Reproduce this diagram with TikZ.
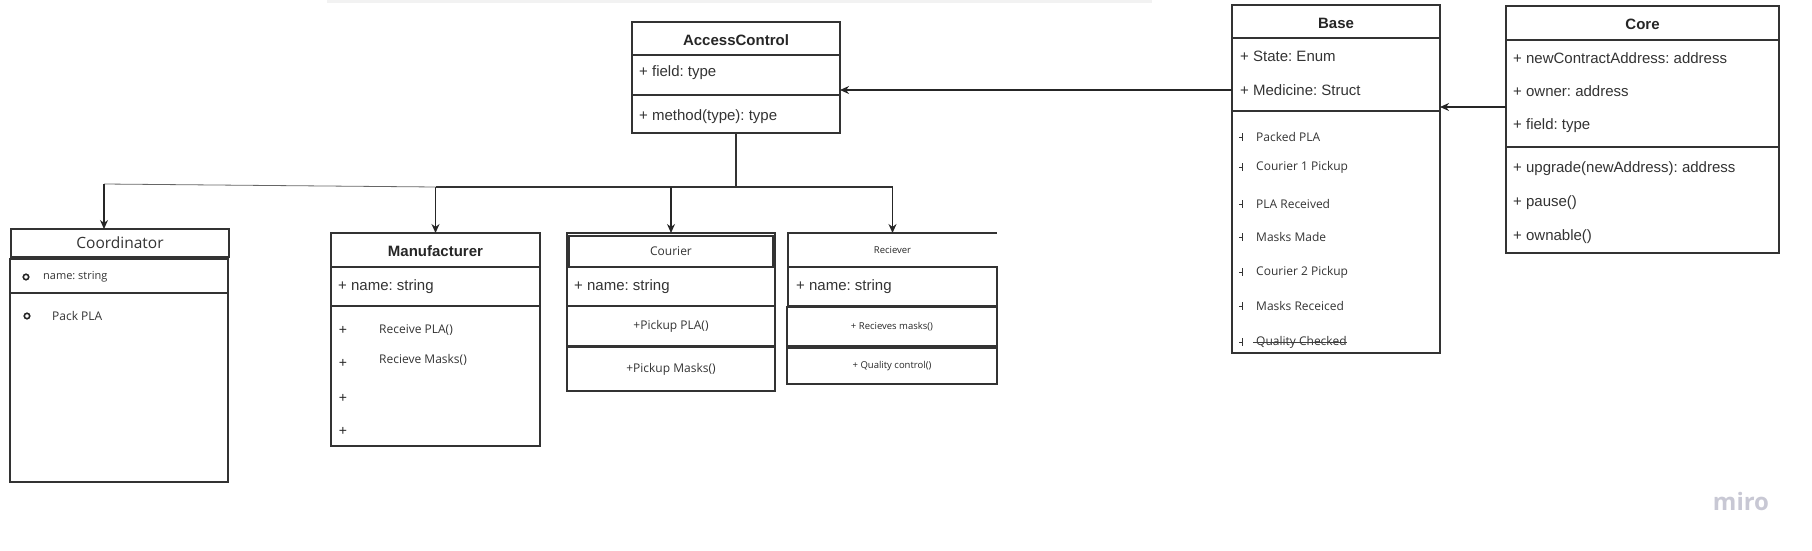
\documentclass[tikz,border=0pt]{standalone}
\usepackage{fontspec}
\setmainfont{Liberation Sans}
\newfontfamily\opensans{Open Sans}
\usetikzlibrary{arrows.meta,positioning,calc}

\definecolor{mirogray}{RGB}{200,200,212}
\frenchspacing

\begin{document}
\begin{tikzpicture}[x=1pt,y=-1pt,
  box/.style={draw=black!80, line width=1.2pt, anchor=north west, inner sep=0pt, outer sep=0pt},
  heavybox/.style={box, line width=2pt},
  hdr/.style={font=\fontsize{15}{18}\selectfont\bfseries, text=black!85, text height=14pt},
  attr/.style={anchor=west, inner sep=0pt, text=black!80, font=\fontsize{15}{18}\selectfont},
  item/.style={anchor=west, inner sep=0pt, text=black!80, font=\opensans\fontsize{12}{14}\selectfont},
  tiny/.style={font=\opensans\fontsize{9.5}{11}\selectfont, text=black!85},
  arr/.style={draw=black!85, line width=1.3pt, -{Stealth[length=9pt,width=8pt]}},
  link/.style={draw=black!80, line width=1.2pt}]
\useasboundingbox (0,0) rectangle (1812,551);
\fill[black!5] (327,0) rectangle (1152,3.5); %top shadow

%AccessControl
\node[box, hdr, minimum width=208, minimum height=33] (acHead) at (632,22) {AccessControl};
\node[box, minimum width=208, minimum height=40] (acField) at (acHead.south west) {};
\node[box, minimum width=208, minimum height=38] (acMeth) at (acField.south west) {};
\node[attr, right=7pt of acField.west, yshift=2pt] (acF1) {+ field: type};
\node[attr, right=7pt of acMeth.west, yshift=-3pt] (acM1) {+ method(type): type};

%Base
\node[box, hdr, minimum width=208, minimum height=33] (bsHead) at (1232,5) {Base};
\node[box, minimum width=208, minimum height=73] (bsField) at (bsHead.south west) {};
\node[box, minimum width=208, minimum height=242] (bsMeth) at (bsField.south west) {};
\node[attr] (bsF1) at (1240,56) {+ State: Enum};
\node[attr] (bsF2) at (1240,90) {+ Medicine: Struct};
\foreach \y/\t [count=\i] in {137/Packed PLA,167/Courier 1 Pickup,204/PLA Received,237/Masks Made,272/Courier 2 Pickup,306/Masks Receiced,342/Quality Checked}{
  \node[item] (bsIt\i) at (1256,\y) {\t};
  \draw[black!80, line width=1pt] (1242,\y-4) -- (1242,\y+4) (1239,\y) -- (1242,\y); %cut plus
}
\draw[black!75, line width=0.9pt] ($(bsIt7.west)+(-3,0.5)$) -- ($(bsIt7.east)+(0,0.5)$); %struck out

%Core
\node[box, hdr, minimum width=273, minimum height=34] (crHead) at (1506,6) {Core};
\node[box, minimum width=273, minimum height=107] (crField) at (crHead.south west) {};
\node[box, minimum width=273, minimum height=106] (crMeth) at (crField.south west) {};
\foreach \y/\t [count=\i] in {58/newContractAddress: address,91/owner: address,126/field: type,169/upgrade(newAddress): address,203/pause(),237/ownable()}
  \node[attr] (crF\i) at (1513,\y) {+ \t};

%Coordinator
\node[heavybox, minimum width=218, minimum height=28, font=\opensans\fontsize{15.5}{18}\selectfont, text=black!80] (coHead) at (11,229) {Coordinator};
\node[box, minimum width=218, minimum height=189] (coBody) at (10,293) {};
\node[heavybox, minimum width=218, minimum height=34] (coAttr) at (10,259) {};
\node[circle, draw=black!85, line width=1.6pt, inner sep=0pt, minimum size=5.5pt] (coB1) at (26,277) {};
\node[circle, draw=black!85, line width=1.6pt, inner sep=0pt, minimum size=5.5pt] (coB2) at (27,316) {};
\node[item, font=\opensans\fontsize{11}{13}\selectfont] (coN) at (43,277) {name: string};
\node[item] (coP) at (52,316) {Pack PLA};

%Manufacturer
\node[box, hdr, minimum width=209, minimum height=34] (mfHead) at (331,233) {Manufacturer};
\node[box, minimum width=209, minimum height=39] (mfField) at (mfHead.south west) {};
\node[box, minimum width=209, minimum height=140] (mfMeth) at (mfField.south west) {};
\node[attr, right=7pt of mfField.west] (mfF1) {+ name: string};
\foreach \y [count=\i] in {330,363,398,431}
  \node[font=\fontsize{14}{16}\selectfont, text=black!85, inner sep=0pt] (mfPl\i) at (343,\y) {+};
\node[item] (mfM1) at (379,330) {Receive PLA()};
\node[item] (mfM2) at (379,360) {Recieve Masks()};

%Courier
\node[box, minimum width=208, minimum height=34] (cuHead) at (567,233) {};
\node[heavybox, minimum width=204, minimum height=31, font=\opensans\fontsize{12}{14}\selectfont, text=black!80] (cuName) at (569,236) {Courier};
\node[box, minimum width=208, minimum height=39] (cuField) at (cuHead.south west) {};
\node[attr, right=7pt of cuField.west] (cuF1) {+ name: string};
\node[heavybox, minimum width=208, minimum height=40, font=\opensans\fontsize{12}{14}\selectfont, text=black!80] (cuPla) at (567,306) {+Pickup PLA()};
\node[box, minimum width=208, minimum height=44, font=\opensans\fontsize{12}{14}\selectfont, text=black!80] (cuMask) at (567,347) {+Pickup Masks()};

%Reciever
\node[anchor=north west, inner sep=0pt, outer sep=0pt, minimum width=209, minimum height=34, tiny] (rcHead) at (788,233) {Reciever};
\draw[link] (rcHead.south east) -- (rcHead.south west) -- (rcHead.north west) -- (rcHead.north east); %open header
\node[box, minimum width=209, minimum height=39] (rcField) at (rcHead.south west) {};
\node[attr, right=8pt of rcField.west] (rcF1) {+ name: string};
\node[heavybox, minimum width=210, minimum height=39, tiny] (rcRec) at (787,307) {+ Recieves masks()};
\node[box, minimum width=210, minimum height=36, tiny] (rcQual) at (787,348) {+ Quality control()};

%connectors
\coordinate (acLvl) at (0,90);
\coordinate (bsLvl) at (0,107);
\coordinate (bus) at (0,187);
\draw[arr] (bsField.west |- acLvl) -- (acField.east |- acLvl);
\draw[arr] (crField.west |- bsLvl) -- (bsField.east |- bsLvl);
\draw[link] (acMeth.south) -- (acMeth.south |- bus);
\draw[link] (mfHead.north |- bus) -- (rcHead.north |- bus);
\foreach \n in {mfHead,cuHead,rcHead}
  \draw[arr] (\n.north |- bus) -- (\n.north);
\draw[draw=black!60, line width=0.8pt] (mfHead.north |- bus) -- ($(coHead.north)+(-16,-45)$) coordinate (coBend);
\draw[arr] (coBend) -- (coBend |- coHead.north);

\node[font=\opensans\bfseries\fontsize{24}{26}\selectfont, text=mirogray] (miro) at (1741,501) {miro};
\end{tikzpicture}
\end{document}
